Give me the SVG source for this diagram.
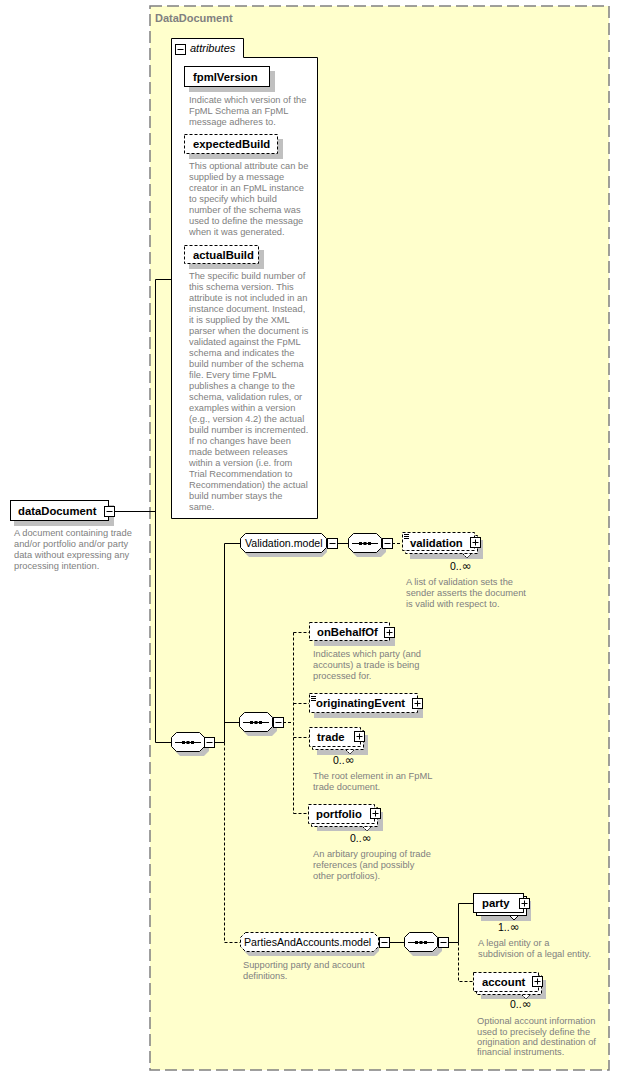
<svg xmlns="http://www.w3.org/2000/svg" xmlns:xlink="http://www.w3.org/1999/xlink" width="620" height="1076" viewBox="0 0 620 1076">
<style>
.desc{font-family:"Liberation Sans",Arial,sans-serif;font-size:9.3px;fill:#808080}
.lbl{font-family:"Liberation Sans",Arial,sans-serif;font-size:11.3px;font-weight:bold;fill:#000}
.reg{font-family:"Liberation Sans",Arial,sans-serif;font-size:10.6px;fill:#000}
.occ{font-family:"Liberation Sans",Arial,sans-serif;font-size:10.5px;fill:#000}
.inf{font-family:"DejaVu Sans",sans-serif;font-size:11.5px}
.ital{font-family:"Liberation Sans",Arial,sans-serif;font-size:11px;font-style:italic;fill:#000}
.hdr{font-family:"Liberation Sans",Arial,sans-serif;font-size:11px;font-weight:bold;fill:#808080}
.box{fill:#fff;stroke:#000;stroke-width:1}
.opt{stroke-dasharray:3,2}
.sh{fill:#c0c0c0}
.ln{fill:none;stroke:#000;stroke-width:1}
.dl{stroke-dasharray:3,2}
</style>
<defs>
<g id="minus"><rect x="0.5" y="0.5" width="10" height="10" fill="#fff" stroke="#000"/><path d="M2.5 5.5H8.5" stroke="#000"/></g>
<g id="plus"><rect x="0.5" y="0.5" width="10" height="10" fill="#fff" stroke="#000"/><path d="M2.5 5.5H8.5M5.5 2.5V8.5" stroke="#000"/></g>
<path id="octS" d="M5 0H29L34 5V15L29 20H5L0 15V5Z"/>
<g id="seq">
<use xlink:href="#octS" x="4" y="4" fill="#c0c0c0"/>
<path d="M5.5 0.5H28.5L33.5 5.5V14.5L28.5 19.5H5.5L0.5 14.5V5.5Z" fill="#fff" stroke="#000"/>
<path d="M4 10.5H30" stroke="#000"/>
<rect x="11" y="9" width="3" height="3" fill="#000"/><rect x="15.5" y="9" width="3" height="3" fill="#000"/><rect x="20" y="9" width="3" height="3" fill="#000"/>
</g>
</defs>

<rect x="150" y="6" width="459" height="1064" fill="#ffffcc" stroke="#808080" stroke-width="1.5" stroke-dasharray="12,5"/>
<text class="hdr" x="155" y="22">DataDocument</text>

<g id="connectors" class="ln">
<path d="M114 511.5H155.5M155.5 279.5V742.5M155.5 279.5H171M155.5 742.5H171"/>
<path d="M214 742.5H224.5M224.5 543.5V742.5M224.5 543.5H240M224.5 722.5H239M337 543.5H348"/>
<path class="dl" d="M224.5 742.5V942.5H240M392 543.5H402M283 722.5H293.5M293.5 632.5V813.5M293.5 632.5H309M293.5 703.5H309M293.5 737.5H309M293.5 813.5H308"/>
<path d="M389 942.5H404M448 942.5H458.5M458.5 903.5V942.5M458.5 903.5H473"/>
<path class="dl" d="M458.5 942.5V981.5H473"/>
</g>

<g id="attributes">
<path class="box" d="M171.5 518.5V38.5H243.5V57.5H317.5V518.5Z"/>
<use xlink:href="#minus" x="175" y="44"/>
<text class="ital" x="190" y="52">attributes</text>
</g>

<g id="fpmlVersion">
<rect class="sh" x="189" y="71" width="86" height="21"/>
<rect class="box" x="184.5" y="66.5" width="85" height="20"/>
<text class="lbl" x="193" y="81">fpmlVersion</text>
<text class="desc"><tspan x="189" y="103">Indicate which version of the</tspan><tspan x="189" y="114">FpML Schema an FpML</tspan><tspan x="189" y="125">message adheres to.</tspan></text>
</g>

<g id="expectedBuild">
<rect class="sh" x="189" y="139" width="94" height="20"/>
<rect class="box opt" x="184.5" y="134.5" width="93" height="19"/>
<text class="lbl" x="193" y="148">expectedBuild</text>
<text class="desc"><tspan x="189" y="168.5">This optional attribute can be</tspan><tspan x="189" y="179.5">supplied by a message</tspan><tspan x="189" y="190.5">creator in an FpML instance</tspan><tspan x="189" y="201.5">to specify which build</tspan><tspan x="189" y="212.5">number of the schema was</tspan><tspan x="189" y="223.5">used to define the message</tspan><tspan x="189" y="234.5">when it was generated.</tspan></text>
</g>

<g id="actualBuild">
<rect class="sh" x="189" y="250" width="75" height="19"/>
<rect class="box opt" x="184.5" y="245.5" width="74" height="18"/>
<text class="lbl" x="193" y="259">actualBuild</text>
<text class="desc"><tspan x="189" y="279">The specific build number of</tspan><tspan x="189" y="290">this schema version. This</tspan><tspan x="189" y="301">attribute is not included in an</tspan><tspan x="189" y="312">instance document. Instead,</tspan><tspan x="189" y="323">it is supplied by the XML</tspan><tspan x="189" y="334">parser when the document is</tspan><tspan x="189" y="345">validated against the FpML</tspan><tspan x="189" y="356">schema and indicates the</tspan><tspan x="189" y="367">build number of the schema</tspan><tspan x="189" y="378">file. Every time FpML</tspan><tspan x="189" y="389">publishes a change to the</tspan><tspan x="189" y="400">schema, validation rules, or</tspan><tspan x="189" y="411">examples within a version</tspan><tspan x="189" y="422">(e.g., version 4.2) the actual</tspan><tspan x="189" y="433">build number is incremented.</tspan><tspan x="189" y="444">If no changes have been</tspan><tspan x="189" y="455">made between releases</tspan><tspan x="189" y="466">within a version (i.e. from</tspan><tspan x="189" y="477">Trial Recommendation to</tspan><tspan x="189" y="488">Recommendation) the actual</tspan><tspan x="189" y="499">build number stays the</tspan><tspan x="189" y="510">same.</tspan></text>
</g>

<g id="dataDocument">
<rect class="sh" x="14" y="505" width="100" height="21"/>
<rect class="box" x="10.5" y="500.5" width="98" height="20"/>
<text class="lbl" x="18" y="515">dataDocument</text>
<use xlink:href="#minus" x="104" y="506"/>
<text class="desc"><tspan x="14" y="536">A document containing trade</tspan><tspan x="14" y="547">and/or portfolio and/or party</tspan><tspan x="14" y="558">data without expressing any</tspan><tspan x="14" y="569">processing intention.</tspan></text>
</g>

<g id="sequence1">
<use xlink:href="#seq" x="171" y="732"/>
<use xlink:href="#minus" x="204" y="737"/>
</g>

<g id="ValidationModel">
<path class="sh" d="M249 537H322L327 542V552L322 557H249L244 552V542Z"/>
<path class="box" d="M245.5 533.5H321.5L326.5 538.5V547.5L321.5 552.5H245.5L240.5 547.5V538.5Z"/>
<text class="reg" x="245" y="547">Validation.model</text>
<use xlink:href="#minus" x="327" y="538"/>
</g>

<g id="sequence2">
<use xlink:href="#seq" x="348" y="533"/>
<use xlink:href="#minus" x="382" y="538"/>
</g>

<g id="validation">
<rect class="sh" x="410" y="540" width="73" height="19"/>
<rect class="box opt" x="405.5" y="535.5" width="72" height="18"/>
<path d="M463 554L467 558L471 554" fill="#fff" stroke="#000" stroke-dasharray="2,1"/>
<rect class="box opt" x="402.5" y="532.5" width="72" height="18"/>
<path class="ln" d="M404 534.5H409M404 536.5H409M404 538.5H409"/>
<text class="lbl" x="410" y="547">validation</text>
<use xlink:href="#plus" x="470" y="537"/>
<text class="occ" x="450" y="570">0..<tspan class="inf">∞</tspan></text>
<text class="desc"><tspan x="406" y="585">A list of validation sets the</tspan><tspan x="406" y="596">sender asserts the document</tspan><tspan x="406" y="607">is valid with respect to.</tspan></text>
</g>

<g id="sequence3">
<use xlink:href="#seq" x="239" y="712"/>
<use xlink:href="#minus" x="273" y="717"/>
</g>

<g id="onBehalfOf">
<rect class="sh" x="314" y="627" width="81" height="19"/>
<rect class="box opt" x="309.5" y="622.5" width="80" height="18"/>
<text class="lbl" x="317" y="636">onBehalfOf</text>
<use xlink:href="#plus" x="384" y="627"/>
<text class="desc"><tspan x="313" y="657">Indicates which party (and</tspan><tspan x="313" y="668">accounts) a trade is being</tspan><tspan x="313" y="679">processed for.</tspan></text>
</g>

<g id="originatingEvent">
<rect class="sh" x="314" y="698" width="109" height="20"/>
<rect class="box opt" x="309.5" y="693.5" width="108" height="19"/>
<path class="ln" d="M311 696.5H316M311 698.5H316M311 700.5H316"/>
<text class="lbl" x="316" y="707">originatingEvent</text>
<use xlink:href="#plus" x="412" y="698"/>
</g>

<g id="trade">
<rect class="sh" x="317" y="735" width="51" height="20"/>
<rect class="box opt" x="312.5" y="730.5" width="51" height="19"/>
<path d="M346 750L350 754L354 750" fill="#fff" stroke="#000" stroke-dasharray="2,1"/>
<rect class="box opt" x="309.5" y="727.5" width="51" height="19"/>
<text class="lbl" x="317" y="741">trade</text>
<use xlink:href="#plus" x="354" y="731"/>
<text class="occ" x="333" y="764">0..<tspan class="inf">∞</tspan></text>
<text class="desc"><tspan x="313" y="779">The root element in an FpML</tspan><tspan x="313" y="790">trade document.</tspan></text>
</g>

<g id="portfolio">
<rect class="sh" x="317" y="812" width="66" height="19"/>
<rect class="box opt" x="311.5" y="807.5" width="66" height="19"/>
<path d="M363 827L367 831L371 827" fill="#fff" stroke="#000" stroke-dasharray="2,1"/>
<rect class="box opt" x="308.5" y="804.5" width="66" height="19"/>
<text class="lbl" x="316" y="818">portfolio</text>
<use xlink:href="#plus" x="370" y="808"/>
<text class="occ" x="350" y="842">0..<tspan class="inf">∞</tspan></text>
<text class="desc"><tspan x="313" y="857">An arbitary grouping of trade</tspan><tspan x="313" y="868">references (and possibly</tspan><tspan x="313" y="879">other portfolios).</tspan></text>
</g>

<g id="PartiesAndAccountsModel">
<path class="sh" d="M249 936H374L379 941V951L374 956H249L244 951V941Z"/>
<path class="box opt" d="M245.5 932.5H373.5L378.5 937.5V946.5L373.5 951.5H245.5L240.5 946.5V937.5Z"/>
<text class="reg" x="244" y="946">PartiesAndAccounts.model</text>
<use xlink:href="#minus" x="379" y="937"/>
<text class="desc"><tspan x="243" y="968">Supporting party and account</tspan><tspan x="243" y="979">definitions.</tspan></text>
</g>

<g id="sequence4">
<use xlink:href="#seq" x="404" y="932"/>
<use xlink:href="#minus" x="438" y="937"/>
</g>

<g id="party">
<rect class="sh" x="481" y="901" width="50" height="20"/>
<rect class="box" x="476.5" y="896.5" width="50" height="19"/>
<path d="M510 916L514 920L518 916" fill="#fff" stroke="#000"/>
<rect class="box" x="473.5" y="893.5" width="50" height="19"/>
<text class="lbl" x="482" y="907">party</text>
<use xlink:href="#plus" x="519" y="898"/>
<text class="occ" x="498" y="931">1..<tspan class="inf">∞</tspan></text>
<text class="desc"><tspan x="478" y="946">A legal entity or a</tspan><tspan x="478" y="957">subdivision of a legal entity.</tspan></text>
</g>

<g id="account">
<rect class="sh" x="481" y="980" width="65" height="19"/>
<rect class="box opt" x="476.5" y="975.5" width="65" height="19"/>
<path d="M522 995L526 999L530 995" fill="#fff" stroke="#000" stroke-dasharray="2,1"/>
<rect class="box opt" x="473.5" y="972.5" width="65" height="19"/>
<text class="lbl" x="482" y="986">account</text>
<use xlink:href="#plus" x="532" y="976"/>
<text class="occ" x="510" y="1008">0..<tspan class="inf">∞</tspan></text>
<text class="desc"><tspan x="477" y="1024">Optional account information</tspan><tspan x="477" y="1035">used to precisely define the</tspan><tspan x="477" y="1045">origination and destination of</tspan><tspan x="477" y="1055">financial instruments.</tspan></text>
</g>
</svg>
